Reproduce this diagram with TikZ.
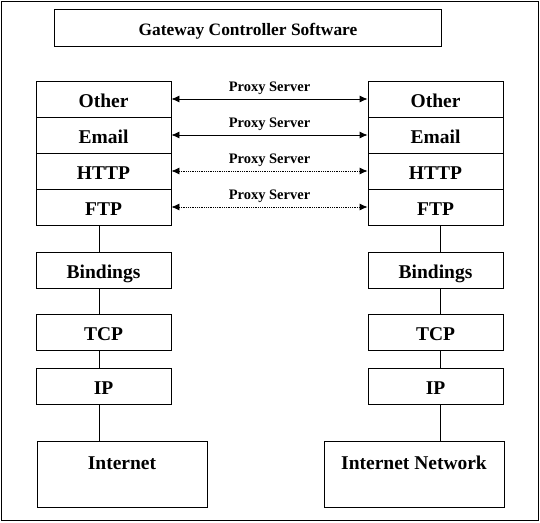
\documentclass[tikz,border=0pt]{standalone}
\usepackage{fontspec}
\setmainfont{Liberation Serif}
\usetikzlibrary{arrows.meta}
\begin{document}
\begin{tikzpicture}[x=1pt,y=-1pt,
  every node/.style={font=\bfseries},
  layer/.style={draw, line width=0.8pt, minimum width=135pt, minimum height=36pt, inner sep=0pt, text height=17pt, text depth=0pt, font=\fontsize{19.5}{22}\selectfont\bfseries},
  netbox/.style={draw, line width=0.8pt, minimum height=66pt, inner sep=0pt, text height=14pt, text depth=23pt, font=\fontsize{19.5}{22}\selectfont\bfseries},
  titlebox/.style={draw, line width=0.8pt, minimum width=387pt, minimum height=36.6pt, inner sep=0pt, text height=15pt, text depth=0pt, font=\fontsize{17.4}{20}\selectfont\bfseries},
  link/.style={line width=0.8pt},
  proxy/.style={line width=0.8pt, {Latex[length=8pt,width=7pt]}-{Latex[length=8pt,width=7pt]}},
  plabel/.style={above, midway, inner sep=1pt, yshift=2.5pt, font=\fontsize{14.5}{16}\selectfont\bfseries}
]
\useasboundingbox (0,0) rectangle (540,522);
\draw[line width=0.8pt] (1,1) rectangle (538,520);

\node[titlebox] (title) at (248,28) {Gateway Controller Software};

% left stack
\node[layer] (otherL) at (103.5,99) {Other};
\node[layer] (emailL) at (103.5,135) {Email};
\node[layer] (httpL) at (103.5,171) {HTTP};
\node[layer] (ftpL) at (103.5,207) {FTP};
\node[layer] (bindL) at (103.5,270) {Bindings};
\node[layer] (tcpL) at (103.5,332) {TCP};
\node[layer] (ipL) at (103.5,386) {IP};
\node[netbox, minimum width=170pt] (inetL) at (122,474) {Internet};

% right stack
\node[layer] (otherR) at (435.5,99) {Other};
\node[layer] (emailR) at (435.5,135) {Email};
\node[layer] (httpR) at (435.5,171) {HTTP};
\node[layer] (ftpR) at (435.5,207) {FTP};
\node[layer] (bindR) at (435.5,270) {Bindings};
\node[layer] (tcpR) at (435.5,332) {TCP};
\node[layer] (ipR) at (435.5,386) {IP};
\node[netbox, minimum width=180pt] (inetR) at (414,474) {Internet Network};

% vertical links
\draw[link] ([xshift=-4.5pt]ftpL.south) -- ([xshift=-4.5pt]bindL.north);
\draw[link] ([xshift=-4.5pt]bindL.south) -- ([xshift=-4.5pt]tcpL.north);
\draw[link] ([xshift=-4.5pt]tcpL.south) -- ([xshift=-4.5pt]ipL.north);
\coordinate (cl) at ([xshift=-4.5pt]ipL.south);
\draw[link] (cl) -- (cl |- inetL.north);

\draw[link] ([xshift=5pt]ftpR.south) -- ([xshift=5pt]bindR.north);
\draw[link] ([xshift=5pt]bindR.south) -- ([xshift=5pt]tcpR.north);
\draw[link] ([xshift=5pt]tcpR.south) -- ([xshift=5pt]ipR.north);
\coordinate (cr) at ([xshift=5pt]ipR.south);
\draw[link] (cr) -- (cr |- inetR.north);

% proxy arrows
\draw[proxy] (otherL.east) -- node[plabel] {Proxy Server} (otherR.west);
\draw[proxy] (emailL.east) -- node[plabel] {Proxy Server} (emailR.west);
\draw[proxy, densely dotted] (httpL.east) -- node[plabel] {Proxy Server} (httpR.west);
\draw[proxy, densely dotted] (ftpL.east) -- node[plabel] {Proxy Server} (ftpR.west);
\end{tikzpicture}
\end{document}
